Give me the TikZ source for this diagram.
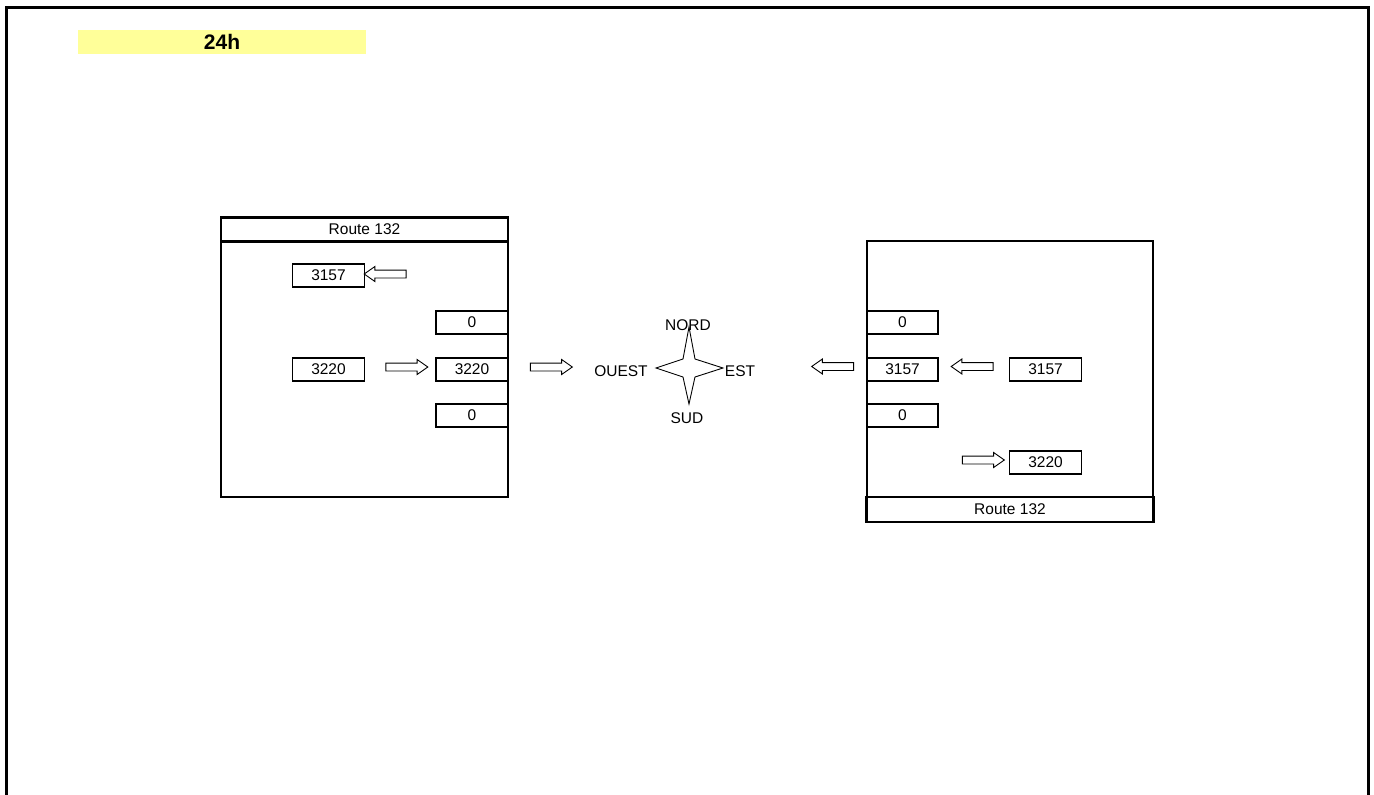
\documentclass[tikz,border=0pt]{standalone}
\usepackage{fontspec}
\setmainfont{Liberation Sans}
\usepackage{xcolor}
\usetikzlibrary{shapes.arrows}
\definecolor{paleyellow}{HTML}{FFFF99}

\begin{document}
\begin{tikzpicture}[x=1pt,y=-1pt,
 txt/.style={font=\fontsize{15.5}{18}\selectfont,inner sep=0pt},
 cell/.style={txt,draw,line width=1.3pt,minimum width=72pt,minimum height=23pt},
 titlebox/.style={txt,draw,line width=2.5pt,minimum width=287pt,minimum height=24pt},
 panel/.style={draw,line width=1.6pt},
 flow/.style={single arrow,draw,line width=0.9pt,minimum height=42pt,inner xsep=0pt,inner ysep=3.5pt,
  single arrow head extend=3.5pt,single arrow tip angle=70},
 back/.style={flow,shape border rotate=180}]
\useasboundingbox (0,0) rectangle (1374,795);
\draw[line width=3pt] (6.5,795) -- (6.5,7.5) -- (1368,7.5) -- (1368,795);
\node[fill=paleyellow,minimum width=288pt,minimum height=24pt,inner sep=0pt,
 font=\fontsize{21}{24}\selectfont\bfseries] (day) at (222,42) {24h};
\draw[panel] (221,241) rectangle (508,497);
\node[titlebox] (wtitle) at (364.5,229.5) {Route 132};
\node[cell] (wout) at (328.5,275.5) {3157};
\node[cell] (win) at (328.5,369.5) {3220};
\node[cell] (wleft) at (472,322.5) {0};
\node[cell] (wthru) at (472,369.5) {3220};
\node[cell] (wright) at (472,415.5) {0};
\node[back] (wback) at (388,274) {};
\node[flow] (wgo) at (404,367) {};
\node[flow] (cross) at (548.5,367) {};
\draw[line width=0.9pt,fill=white] (689,327) -- (695,359) -- (723,368) -- (695,377) -- (689,404)
 -- (683,377) -- (656,368) -- (683,359) -- cycle;
\node[txt] (nord) at (688,325) {NORD};
\node[txt] (ouest) at (621,371) {OUEST};
\node[txt] (est) at (740,371) {EST};
\node[txt] (sud) at (687,418) {SUD};
\draw[panel] (867,241) rectangle (1153,497);
\node[titlebox,minimum height=25pt] (etitle) at (1010,509.5) {Route 132};
\node[cell,minimum width=71pt] (eleft) at (902.5,322.5) {0};
\node[cell,minimum width=71pt] (ethru) at (902.5,369.5) {3157};
\node[cell,minimum width=71pt] (eright) at (902.5,415.5) {0};
\node[cell] (ein) at (1045.5,369.5) {3157};
\node[cell] (eout) at (1045.5,462.5) {3220};
\node[back] (exit) at (835.5,366.5) {};
\node[back] (eback) at (975,366.5) {};
\node[flow] (ego) at (980.5,460) {};
\end{tikzpicture}
\end{document}
